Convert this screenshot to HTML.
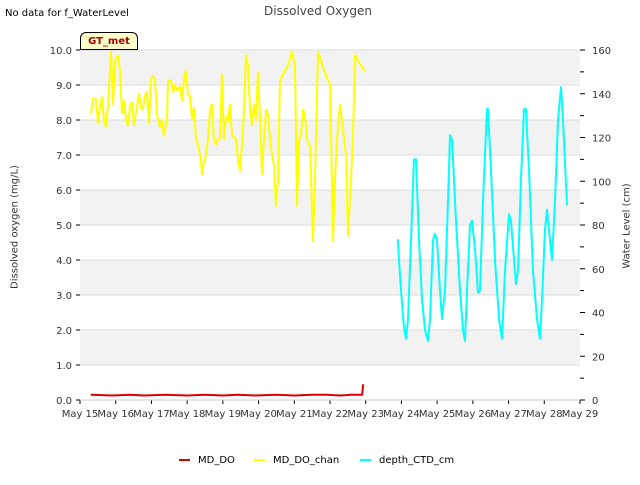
<!DOCTYPE html>
<html><head><meta charset="utf-8"><style>
body{margin:0;background:#fff;}
svg text{font-family:"DejaVu Sans",sans-serif;}
</style></head><body>
<svg id="c" width="640" height="480" xmlns="http://www.w3.org/2000/svg"></svg>
<script>
const xTickLabels=["May 15","May 16","May 17","May 18","May 19","May 20","May 21","May 22","May 23","May 24","May 25","May 26","May 27","May 28","May 29"];
const leftTicks=[0,1,2,3,4,5,6,7,8,9,10];
const rightTicks=[0,20,40,60,80,100,120,140,160];
const doDays=[0.3,0.9,1.4,1.8,2.4,3.0,3.5,4.0,4.4,4.9,5.5,6.0,6.5,6.9,7.3,7.6,7.9,7.93];
const doVals=[0.15,0.13,0.15,0.13,0.15,0.13,0.15,0.13,0.15,0.13,0.15,0.13,0.15,0.15,0.13,0.15,0.15,0.45];
const yPx=[91,93,96,98,100,102,104,106,108,111,113,115,118,120,122,124,126,128,130,132,134,137,139,141,143,145,147,149,151,153,155,157,160,162,164,167,168,171,173,175,177,180,182,184,186,188,190,192,194,196,198,201,202,204,206,208,210,212,214,216,218,220,222,224,226,228,230,232,234,236,238,240,243,246,248,250,252,254,256,258,260,262,264,266,268,270,272,274,276,278,280,283,287,292,295,297,299,301,303,305,307,309,310,313,315,318,325,330,333,335,337,340,342,344,346,348,351,353,355,360,365];
const chanDays=yPx.map(x=>(x-80)/(500/14));
const chanVals=[8.2,8.6,8.6,7.9,8.4,8.65,8.0,7.8,8.4,9.95,8.45,9.7,9.85,9.4,8.2,8.55,8.0,7.85,8.4,8.5,7.85,8.4,8.75,8.35,8.3,8.7,8.8,7.9,9.2,9.25,9.15,8.15,7.8,8.0,7.55,8.0,9.1,9.15,8.8,9.0,8.85,8.95,8.55,9.15,9.4,8.7,8.7,8.05,8.35,7.45,7.3,6.85,6.45,6.8,7.0,7.45,8.3,8.45,7.45,7.3,7.45,7.45,9.3,7.45,8.1,8.0,8.45,7.55,7.5,7.45,6.85,6.55,7.7,9.85,9.55,8.3,7.85,8.45,8.0,9.35,8.15,6.45,7.45,8.3,8.15,7.5,7.0,6.7,5.55,6.3,9.15,9.3,9.5,9.95,9.55,5.55,7.45,7.55,8.3,8.15,7.45,7.3,7.25,4.55,6.3,9.95,9.35,9.0,4.55,6.3,7.45,8.45,8.0,7.45,7.0,4.7,6.3,7.55,9.85,9.6,9.4];
const cPx=[397.7,401,404,406,408,411,414,416,419,422,425,428,430,433,435,437,440,442,445,448,450,452,456,460,463,465,467,470,472,475,478,480,483,487,488,491,495,499,502,505,509,511,514,516,518,521,524,526,529,533,537,540,542,545,547,550,552,555,558,561,563,567];
const ctdDays=cPx.map(x=>(x-80)/(500/14));
const ctdVals=[73.5,50,33,28,37,73,110,110,73,46,32,27,37,73,76,73,50,37,50,91,121,119,82,50,32,27,50,80,82,69,49,50,91,133,133,105,64,37,28,59,85,82,64,53,59,101,133,133,105,59,37,28,46,78,87,73,64,91,128,143,128,89];

const svg=document.getElementById('c');
const NS='http://www.w3.org/2000/svg';
const X0=80,X1=580,Y0=400,Y1=50;
const xs=d=>X0+d*(X1-X0)/14;
const yl=v=>Y0-v*(Y0-Y1)/10;
const yr=v=>Y0-v*(Y0-Y1)/160;
function mk(t,a,p){const e=document.createElementNS(NS,t);for(const k in a)e.setAttribute(k,a[k]);(p||svg).appendChild(e);return e;}
function tx(s,a){const e=mk('text',a);e.textContent=s;return e;}

for(let i=0;i<10;i++){
  if(i%2===1){const r=mk('rect',{x:X0,y:yl(i+1),width:X1-X0,height:yl(i)-yl(i+1),fill:'#f2f2f2'});
  
  }
}
leftTicks.forEach(v=>{
  const l=mk('line',{x1:X0,x2:X1,y1:yl(v),y2:yl(v),stroke:'#dcdcdc','stroke-width':1});
  
  
  mk('line',{x1:X0-4,x2:X0,y1:yl(v),y2:yl(v),stroke:'#000'});
  const t=tx(v.toFixed(1),{x:X0-8,y:yl(v)+4,'font-size':10,'text-anchor':'end',fill:'#333'});
  
  
});
rightTicks.forEach(v=>{
  mk('line',{x1:X1,x2:X1+5,y1:yr(v),y2:yr(v),stroke:'#000'});
  if(v<160) mk('line',{x1:X1,x2:X1+4,y1:yr(v+10),y2:yr(v+10),stroke:'#000'});
  const t=tx(String(v),{x:X1+12,y:yr(v)+4,'font-size':10,fill:'#333'});
  
  
});
xTickLabels.forEach((s,i)=>{
  mk('line',{x1:xs(i),x2:xs(i),y1:Y0,y2:Y0+4,stroke:'#000'});
  const t=tx(s,{x:xs(i),y:Y0+17,'font-size':10,'text-anchor':'middle',fill:'#333'});
  
  
});
mk('line',{x1:X0,x2:X1,y1:Y0,y2:Y0,stroke:'#ccc'});

function series(days,vals,yf,color,name){
  const p=mk('polyline',{points:days.map((d,i)=>xs(d)+','+yf(vals[i])).join(' '),fill:'none',stroke:color,'stroke-width':2,'stroke-linejoin':'round'});
  
  
}
series(doDays,doVals,yl,'#dd0000','md-do-line');
series(chanDays,chanVals,yl,'#ffff00','md-do-chan-line');
series(ctdDays,ctdVals,yr,'#00ffff','depth-ctd-line');
</script>
<div style="position:absolute;left:0;top:0;width:640px;height:480px;pointer-events:none;font-family:'DejaVu Sans',sans-serif">
<div style="position:absolute;left:5px;top:8px;font-size:10px;color:#000">No data for f_WaterLevel</div>
<div style="position:absolute;left:0;width:636px;top:4px;text-align:center;font-size:12px;color:#444">Dissolved Oxygen</div>
<div style="position:absolute;left:80px;top:32px;width:58px;height:18px;background:#ffffcc;border:1px solid #000;border-radius:6px 6px 0 0;font-size:10px;font-weight:bold;color:#aa0000;text-align:center;line-height:18px;box-sizing:border-box">GT_met</div>
<div style="position:absolute;left:15px;top:227px;font-size:10px;color:#333;transform:translate(-50%,-50%) rotate(-90deg);white-space:nowrap">Dissolved oxygen (mg/L)</div>
<div style="position:absolute;left:627px;top:226px;font-size:10px;color:#333;transform:translate(-50%,-50%) rotate(-90deg);white-space:nowrap">Water Level (cm)</div>
<div style="position:absolute;top:455px;left:0;width:640px;font-size:10px;color:#000">
 <span style="position:absolute;left:179px"><span style="display:inline-block;width:11px;height:2px;background:#dd0000;vertical-align:middle;margin-right:8px"></span>MD_DO</span>
 <span style="position:absolute;left:254px"><span style="display:inline-block;width:11px;height:2px;background:#ffff00;vertical-align:middle;margin-right:8px"></span>MD_DO_chan</span>
 <span style="position:absolute;left:360px"><span style="display:inline-block;width:11px;height:2px;background:#00ffff;vertical-align:middle;margin-right:8px"></span>depth_CTD_cm</span>
</div>
</div>
</body></html>
